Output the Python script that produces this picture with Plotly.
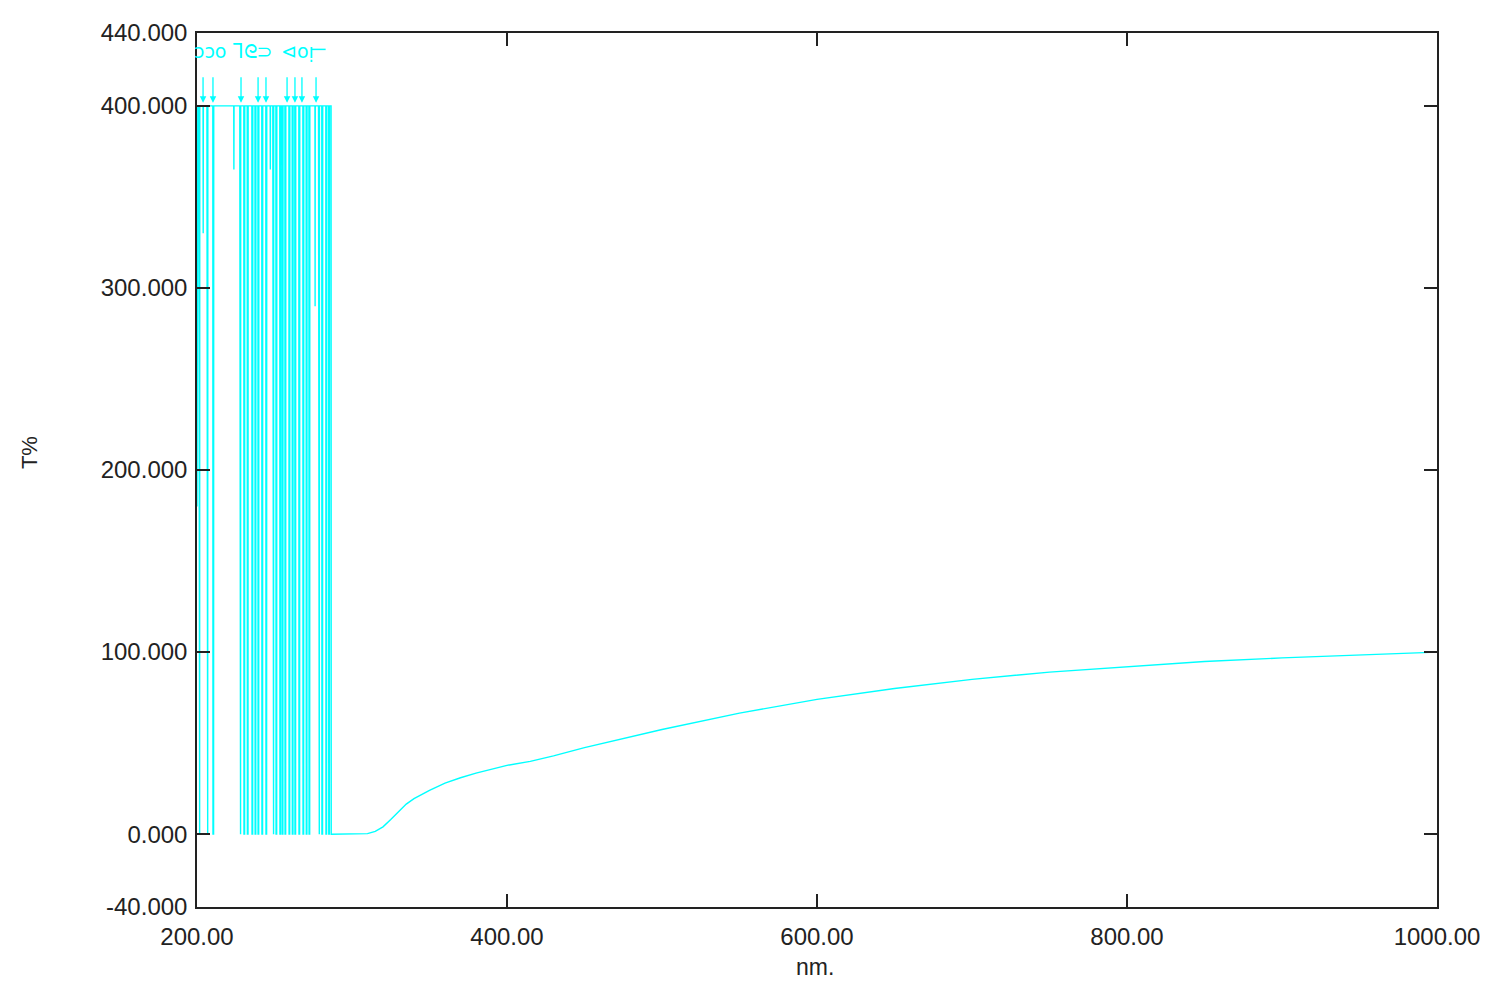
import plotly.graph_objects as go

# ---- data (wavelength in nm, transmittance T%) ----
start_nm = [200.0, 200.5]
start_T = [180, 400]
# positions where the signal drops from 400 down to 0 (saturated noise region)
drop_nm = [201.3, 206.5, 210.3, 227.7, 230.3, 232.5, 235.5, 237.5, 239.4, 241.9, 244.5,
           249.0, 251.0, 253.5, 255.0, 256.8, 259.4, 261.5, 263.2, 265.8, 268.4, 270.5,
           272.3, 278.5, 280.6, 283.2, 285.0]
# partial dips from the 400 ceiling
dip_nm = [204.0, 223.8, 247.3, 276.2]
dip_T = [330, 365, 365, 290]
end_nm = [286.5, 286.6]
end_T = [400, 0]
curve_nm = [290, 300, 305, 310, 315, 320, 325, 330, 335, 340, 350, 360, 370, 380, 390, 400,
            415, 430, 450, 470, 500, 550, 600, 650, 700, 750, 800, 850, 900, 950, 1000]
curve_T = [0, 0, 0, 0.3, 1.5, 4, 8, 12.5, 16.5, 19.5, 24, 28, 31, 33.5, 35.8, 37.8,
           40, 43, 47.5, 51.5, 57.5, 66.5, 74, 80, 85, 89, 92, 94.8, 96.8, 98.5, 100]

peak_nm = [203.9, 210.3, 228.4, 239.4, 244.5, 258.1, 263.2, 267.7, 276.8]
peak_T = [400] * len(peak_nm)
peak_label_nm = [209, 236, 265]
peak_label_txt = ["ɔɔo", "ᒣᘓ⊃", "⊲oᴉ"]

x_ticks = [200, 400, 600, 800, 1000]
x_labels = ["200.00", "400.00", "600.00", "800.00", "1000.00"]
y_ticks = [-40, 0, 100, 200, 300, 400, 440]
y_labels = ["-40.000", "0.000", "100.000", "200.000", "300.000", "400.000", "440.000"]

# ---- build polyline from the data ----
events = [(x, "drop", 0) for x in drop_nm] + [(x, "dip", t) for x, t in zip(dip_nm, dip_T)]
events.sort()
wl = list(start_nm)
T = list(start_T)
for x, kind, t in events:
    if kind == "drop":
        wl += [x - 0.1, x, x + 0.4, x + 0.5]
        T += [400, 0, 0, 400]
    else:
        wl += [x - 0.1, x, x + 0.1]
        T += [400, t, 400]
wl += end_nm + curve_nm
T += end_T + curve_T

CYAN = "#00FFFF"
fig = go.Figure()
fig.add_trace(go.Scatter(x=wl, y=T, mode="lines", line=dict(color=CYAN, width=1.4),
                         showlegend=False, hoverinfo="skip"))

for px, py in zip(peak_nm, peak_T):
    fig.add_annotation(x=px, y=py, xref="x", yref="y", text="", showarrow=True,
                       ax=0, ay=-30, arrowhead=2, arrowsize=1, arrowwidth=1.3,
                       arrowcolor=CYAN, standoff=3)

for px, t in zip(peak_label_nm, peak_label_txt):
    fig.add_annotation(x=px, y=430, xref="x", yref="y", text=t, showarrow=False,
                       xanchor="center", yanchor="middle",
                       font=dict(color=CYAN, size=19, family="DejaVu Sans"))
fig.add_shape(type="line", x0=274, x1=283, y0=431, y1=431, xref="x", yref="y",
              line=dict(color=CYAN, width=1.5))

fig.add_annotation(x=-0.135, y=0.52, xref="paper", yref="paper", text="T%", textangle=-90,
                   xanchor="center", yanchor="middle", showarrow=False,
                   font=dict(size=22, color="#222", family="Liberation Sans"))
fig.add_annotation(x=0.498, y=-0.069, xref="paper", yref="paper", text="nm.",
                   xanchor="center", yanchor="middle", showarrow=False,
                   font=dict(size=23, color="#222", family="Liberation Sans"))

axis_common = dict(showgrid=False, zeroline=False, showline=True, linecolor="#222", linewidth=1.5,
                   mirror="ticks", ticks="inside", ticklen=13, tickwidth=1.5, tickcolor="#222",
                   tickfont=dict(size=24, color="#222", family="Liberation Sans"))
fig.update_xaxes(range=[200, 1000], tickvals=x_ticks, ticktext=x_labels,
                 ticklabelstandoff=7, **axis_common)
fig.update_yaxes(range=[-40, 440], tickvals=y_ticks, ticktext=y_labels,
                 ticklabelstandoff=3, **axis_common)

fig.update_layout(width=1488, height=993, margin=dict(l=189, r=59, t=25, b=94),
                  plot_bgcolor="white", paper_bgcolor="white")
fig.write_html("out.html")
